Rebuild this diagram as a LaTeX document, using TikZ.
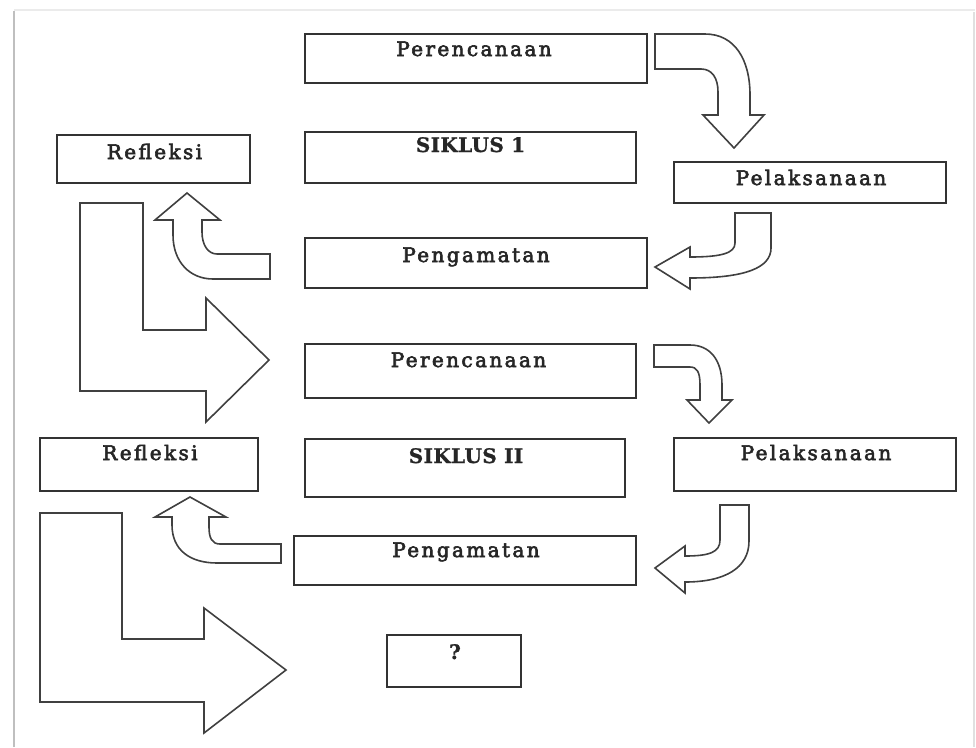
\documentclass[tikz,border=0pt]{standalone}
\usepackage{fontspec}
\setmainfont{DejaVu Serif}
\newfontfamily\lblfont[LetterSpace=12,FakeBold=3]{DejaVu Serif}
\newfontfamily\boldlblfont[LetterSpace=2,FakeBold=1]{DejaVu Serif Bold}
\begin{document}
\begin{tikzpicture}[x=1pt,y=-1pt,
  box/.style={draw=black!80, line width=1.8pt, rectangle, inner sep=0pt, outer sep=0pt},
  lbl/.style={anchor=base, inner sep=0pt, font=\lblfont\fontsize{20}{24}\selectfont, text=black!85},
  blbl/.style={anchor=base, inner sep=0pt, font=\boldlblfont\fontsize{20}{24}\selectfont, text=black!85},
  bigarrow/.style={draw=black!75, line width=1.6pt, fill=white, line join=miter},
  curvearrow/.style={draw=black!75, line width=1.6pt, fill=white, line join=miter}]
\useasboundingbox (0,0) rectangle (976,747);
% page frame shadow
\draw[black!25, line width=2.2pt] (14,747) -- (14,11);
\draw[black!8, line width=1.5pt] (14,10) -- (975,10);
\draw[black!12, line width=1.5pt] (974,12) -- (974,747);

% boxes
\node[box, minimum width=342pt, minimum height=49pt] (p1) at (476,58.5) {};
\node[box, minimum width=331pt, minimum height=51pt] (s1) at (470.5,157.5) {};
\node[box, minimum width=193pt, minimum height=48pt] (r1) at (153.5,159) {};
\node[box, minimum width=272pt, minimum height=41pt] (l1) at (810,182.5) {};
\node[box, minimum width=342pt, minimum height=50pt] (g1) at (476,263) {};
\node[box, minimum width=331pt, minimum height=54pt] (p2) at (470.5,371) {};
\node[box, minimum width=218pt, minimum height=53pt] (r2) at (149,464.5) {};
\node[box, minimum width=320pt, minimum height=58pt] (s2) at (465,468) {};
\node[box, minimum width=282pt, minimum height=53pt] (l2) at (815,464.5) {};
\node[box, minimum width=342pt, minimum height=49pt] (g2) at (465,560.5) {};
\node[box, minimum width=134pt, minimum height=52pt] (q) at (454,661) {};

% labels
\node[lbl] (tp1) at ([xshift=-2pt,yshift=-22pt]p1.north) {Perencanaan};
\node[blbl] (ts1) at ([xshift=0pt,yshift=-20pt]s1.north) {SIKLUS 1};
\node[lbl] (tr1) at ([xshift=1pt,yshift=-24pt]r1.north) {Refleksi};
\node[lbl] (tl1) at ([xshift=1pt,yshift=-23pt]l1.north) {Pelaksanaan};
\node[lbl] (tg1) at ([xshift=0pt,yshift=-24pt]g1.north) {Pengamatan};
\node[lbl] (tp2) at ([xshift=-2pt,yshift=-23pt]p2.north) {Perencanaan};
\node[lbl] (tr2) at ([xshift=1pt,yshift=-22pt]r2.north) {Refleksi};
\node[blbl] (ts2) at ([xshift=1pt,yshift=-24pt]s2.north) {SIKLUS II};
\node[lbl] (tl2) at ([xshift=1pt,yshift=-22pt]l2.north) {Pelaksanaan};
\node[lbl] (tg2) at ([xshift=1pt,yshift=-21pt]g2.north) {Pengamatan};
\node[blbl] (tq) at ([xshift=1pt,yshift=-24pt]q.north) {?};

% cycle 1 arrows
\draw[curvearrow] (655,34) -- (705,34) .. controls (735,34) and (750,60) .. (750,95)
  -- (750,115) -- (764,115) -- (734,148) -- (703,115) -- (718,115) -- (718,92)
  .. controls (718,78) and (712,69) .. (701,69) -- (655,69) -- cycle;
\draw[curvearrow] (735,213) -- (771,213) -- (771,248) .. controls (771,268) and (745,278) .. (690,278)
  -- (690,289) -- (655,267) -- (690,247) -- (690,257) .. controls (722,257) and (735,253) .. (735,243) -- cycle;
\draw[curvearrow] (270,254) -- (217,254) .. controls (208,254) and (202,245) .. (202,232)
  -- (202,220) -- (220,220) -- (187,193) -- (155,220) -- (173,220) -- (173,235)
  .. controls (173,262) and (190,279) .. (213,279) -- (270,279) -- cycle;
\draw[bigarrow] (80,203) -- (143,203) -- (143,330) -- (206,330) -- (206,298) -- (269,360)
  -- (206,422) -- (206,391) -- (80,391) -- cycle;

% cycle 2 arrows
\draw[curvearrow] (654,345) -- (690,345) .. controls (710,345) and (722,360) .. (722,385)
  -- (722,400) -- (732,400) -- (709,423) -- (687,400) -- (700,400) -- (700,385)
  .. controls (700,372) and (697,367) .. (690,367) -- (654,367) -- cycle;
\draw[curvearrow] (720,505) -- (749,505) -- (749,541) .. controls (749,568) and (725,582) .. (685,582)
  -- (685,593) -- (655,568) -- (685,546) -- (685,556) .. controls (710,556) and (720,552) .. (720,540) -- cycle;
\draw[curvearrow] (281,544) -- (220,544) .. controls (212,544) and (209,538) .. (209,527)
  -- (209,517) -- (226,517) -- (190,497) -- (155,517) -- (172,517) -- (172,525)
  .. controls (172,550) and (190,563) .. (217,563) -- (281,563) -- cycle;
\draw[bigarrow] (40,513) -- (122,513) -- (122,639) -- (204,639) -- (204,608) -- (286,670)
  -- (204,733) -- (204,702) -- (40,702) -- cycle;
\end{tikzpicture}
\end{document}
